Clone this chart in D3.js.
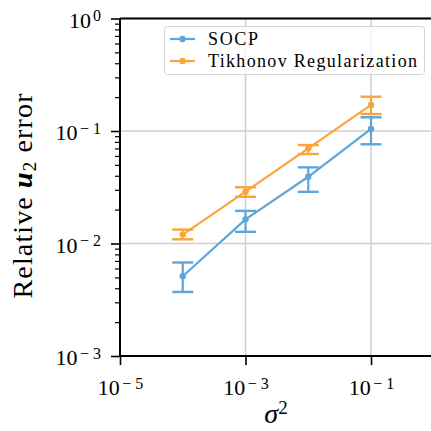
<!DOCTYPE html>
<html>
<head>
<meta charset="utf-8">
<script src="https://cdn.jsdelivr.net/npm/d3@7"></script>
<style>
  html, body { margin: 0; padding: 0; background: #fff; }
  svg { display: block; }
  svg text, svg tspan { font-family: "Liberation Serif", "DejaVu Serif", serif !important; fill: #000; }
</style>
</head>
<body>
<svg id="chart" width="431" height="431"></svg>
<script>
// ---- data ----
const sigma2 = [1e-4, 1e-3, 1e-2, 1e-1];
const socpMean = [0.00512, 0.0164, 0.0392, 0.1042];
const socpLow  = [0.00371, 0.0127, 0.0288, 0.0762];
const socpHigh = [0.00678, 0.0195, 0.0475, 0.1324];
const tikMean = [0.0120, 0.0289, 0.0701, 0.1706];
const tikLow  = [0.0109, 0.0260, 0.0624, 0.1416];
const tikHigh = [0.0133, 0.0316, 0.0750, 0.2018];
const seriesNames = ["SOCP", "Tikhonov Regularization"];
const xTickExps = [-5, -3, -1];
const yTickExps = [0, -1, -2, -3];
const xDomain = [1e-5, 0.92];
const yDomain = [1e-3, 1];

const colors = ["#5DA5DA", "#FAA43A"];
const SERIF = "'Liberation Serif', 'DejaVu Serif', serif";

const svg = d3.select("#chart");
const L = 120, T = 18.5, B = 356, R = 431.5;

const x = d3.scaleLog().domain(xDomain).range([L, R]);
const y = d3.scaleLog().domain(yDomain).range([B, T]);

// grid
const grid = svg.append("g");
grid.selectAll("line.gx").data(xTickExps.map(e => Math.pow(10, e)))
  .enter().append("line")
  .attr("x1", d => x(d)).attr("x2", d => x(d)).attr("y1", T).attr("y2", B)
  .attr("stroke", "#cfcfcf").attr("stroke-width", 1.5);
grid.selectAll("line.gy").data(yTickExps.map(e => Math.pow(10, e)))
  .enter().append("line")
  .attr("x1", L).attr("x2", R).attr("y1", d => y(d)).attr("y2", d => y(d))
  .attr("stroke", "#cfcfcf").attr("stroke-width", 1.5);

function supLabel(sel) {
  sel.selectAll(".tick text").each(function(d) {
    const t = d3.select(this);
    const e = Math.round(Math.log10(d));
    t.text(null).style("font-family", SERIF);
    t.append("tspan").text("10");
    if (e < 0) {
      t.append("tspan").attr("dx", 2.5).attr("dy", "-0.4em").attr("font-size", "16px").text("\u2212");
      t.append("tspan").attr("dx", 4).attr("font-size", "16px").text(String(Math.abs(e)));
    } else {
      t.append("tspan").attr("dx", 2).attr("dy", "-0.4em").attr("font-size", "16px").text(String(e));
    }
  });
}

// y minor ticks
const yMinor = [];
for (let e = -3; e < 0; e++) for (let k = 2; k <= 9; k++) yMinor.push(k * Math.pow(10, e));
svg.append("g").attr("transform", `translate(${L},0)`)
  .call(d3.axisLeft(y).tickValues(yMinor).tickSize(5).tickFormat(""))
  .call(g => g.select(".domain").remove())
  .call(g => g.selectAll(".tick line").attr("stroke", "#000").attr("stroke-width", 1.2));

const yAxis = svg.append("g").attr("transform", `translate(${L},0)`)
  .call(d3.axisLeft(y).tickValues(yTickExps.map(e => Math.pow(10, e))).tickSize(9).tickPadding(10))
  .call(g => g.select(".domain").remove())
  .call(g => g.selectAll(".tick line").attr("stroke", "#000").attr("stroke-width", 1.6));
yAxis.attr("font-family", null);
yAxis.selectAll(".tick text").attr("font-size", "22px").attr("dy", "0.4em");
supLabel(yAxis);

const xAxis = svg.append("g").attr("transform", `translate(0,${B})`)
  .call(d3.axisBottom(x).tickValues(xTickExps.map(e => Math.pow(10, e))).tickSize(9).tickPadding(8))
  .call(g => g.select(".domain").remove())
  .call(g => g.selectAll(".tick line").attr("stroke", "#000").attr("stroke-width", 1.6));
xAxis.attr("font-family", null);
xAxis.selectAll(".tick text").attr("font-size", "22px").attr("dy", "1.02em");
supLabel(xAxis);

// spines
svg.append("line").attr("x1", L).attr("x2", L).attr("y1", T).attr("y2", B).attr("stroke", "#000").attr("stroke-width", 2);
svg.append("line").attr("x1", L).attr("x2", R).attr("y1", B).attr("y2", B).attr("stroke", "#000").attr("stroke-width", 2);
svg.append("line").attr("x1", L).attr("x2", R).attr("y1", T).attr("y2", T).attr("stroke", "#000").attr("stroke-width", 2);

// series
const series = [
  { mean: tikMean, low: tikLow, high: tikHigh, color: colors[1] },
  { mean: socpMean, low: socpLow, high: socpHigh, color: colors[0] }
];
const line = d3.line().x(d => x(d[0])).y(d => y(d[1]));
series.forEach(s => {
  const g = svg.append("g");
  const pts = sigma2.map((v, i) => [v, s.mean[i], s.low[i], s.high[i]]);
  g.append("path").datum(pts).attr("d", line).attr("fill", "none")
    .attr("stroke", s.color).attr("stroke-width", 2.2);
  g.selectAll("line.eb").data(pts).enter().append("line")
    .attr("x1", d => x(d[0])).attr("x2", d => x(d[0]))
    .attr("y1", d => y(d[2])).attr("y2", d => y(d[3]))
    .attr("stroke", s.color).attr("stroke-width", 2.2);
  [2, 3].forEach(k => {
    g.selectAll("line.cap" + k).data(pts).enter().append("line")
      .attr("x1", d => x(d[0]) - 10.5).attr("x2", d => x(d[0]) + 10.5)
      .attr("y1", d => y(d[k])).attr("y2", d => y(d[k]))
      .attr("stroke", s.color).attr("stroke-width", 2.4);
  });
  g.selectAll("circle").data(pts).enter().append("circle")
    .attr("cx", d => x(d[0])).attr("cy", d => y(d[1])).attr("r", 3.2)
    .attr("fill", s.color);
});

// legend
const lg = svg.append("g");
lg.append("rect").attr("x", 164.5).attr("y", 26.5).attr("width", 260).attr("height", 48)
  .attr("rx", 3).attr("fill", "#fff").attr("fill-opacity", 0.8)
  .attr("stroke", "#d6d6d6").attr("stroke-width", 1);
const rows = [39, 61];
const textW = [50, 209];
seriesNames.forEach((n, i) => {
  lg.append("line").attr("x1", 170).attr("x2", 195).attr("y1", rows[i]).attr("y2", rows[i])
    .attr("stroke", colors[i]).attr("stroke-width", 2.2);
  lg.append("circle").attr("cx", 182.5).attr("cy", rows[i]).attr("r", 3.2).attr("fill", colors[i]);
  lg.append("text").attr("x", 208).attr("y", rows[i] + 6).attr("font-size", "18px")
    .style("font-family", SERIF)
    .attr("textLength", textW[i]).attr("lengthAdjust", "spacing").text(n);
});

// axis labels
const yl = svg.append("text").attr("transform", "translate(32,196) rotate(-90)")
  .attr("text-anchor", "middle").attr("font-size", "28px").style("font-family", SERIF)
  .attr("textLength", 205).attr("lengthAdjust", "spacing");
yl.append("tspan").text("Relative ");
yl.append("tspan").attr("font-weight", "bold").attr("font-style", "italic").text("u");
yl.append("tspan").attr("font-size", "19px").attr("dy", "0.22em").text("2");
yl.append("tspan").attr("dy", "-0.15em").text(" error");

const xl = svg.append("text").attr("x", 276).attr("y", 423)
  .attr("text-anchor", "middle").attr("font-size", "28px").style("font-family", SERIF);
xl.append("tspan").attr("font-style", "italic").text("\u03C3");
xl.append("tspan").attr("font-size", "19px").attr("dy", "-0.5em").text("2");
</script>
</body>
</html>
